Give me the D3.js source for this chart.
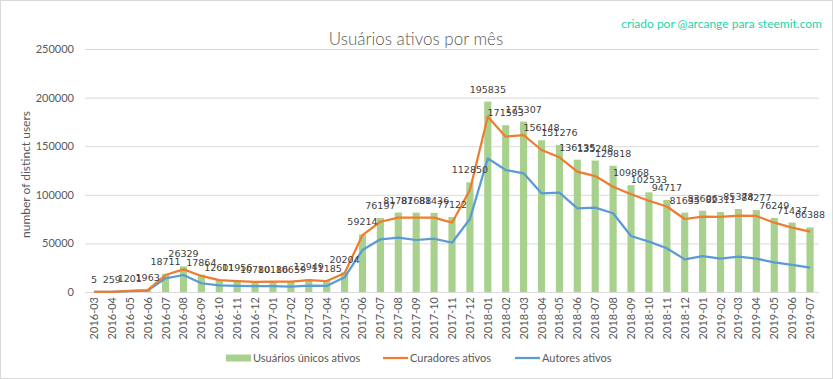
<!DOCTYPE html>
<html>
<head>
<meta charset="utf-8">
<script src="https://cdn.jsdelivr.net/npm/d3@7"></script>
<style>
  html, body { margin: 0; padding: 0; background: #fff; }
  svg { display: block; }
</style>
</head>
<body>
<div id="chart"></div>
<script>
// meses 2016-03 .. 2019-07
const MONTHS = [
  "2016-03","2016-04","2016-05","2016-06","2016-07","2016-08","2016-09","2016-10","2016-11","2016-12",
  "2017-01","2017-02","2017-03","2017-04","2017-05","2017-06","2017-07","2017-08","2017-09","2017-10",
  "2017-11","2017-12","2018-01","2018-02","2018-03","2018-04","2018-05","2018-06","2018-07","2018-08",
  "2018-09","2018-10","2018-11","2018-12","2019-01","2019-02","2019-03","2019-04","2019-05","2019-06","2019-07"
];
// Usuários únicos ativos (barras, com rótulos)
const UNICOS = [
  5, 259, 1201, 1963, 18711, 26329, 17864, 12601, 11956, 10780,
  10186, 10659, 12949, 11185, 20204, 59214, 76197, 81787, 81688, 81436,
  77122, 112850, 195835, 171593, 175307, 156148, 151276, 136135, 135248, 129818,
  109868, 102533, 94717, 81635, 83606, 82311, 85378, 84277, 76249, 71437, 66388
];
// Curadores ativos (linha laranja)
const CURADORES = [
  5, 240, 1150, 1900, 17500, 23300, 16500, 12300, 11300, 10500,
  10700, 10600, 12200, 11300, 19200, 58600, 72300, 76500, 76500, 76500,
  71300, 104900, 180300, 159800, 161500, 146100, 138600, 123800, 119300, 108300,
  100500, 93900, 88000, 75100, 77500, 77200, 78500, 78200, 71300, 66200, 62100
];
// Autores ativos (linha azul)
const AUTORES = [
  5, 200, 900, 1500, 14100, 17500, 9000, 6900, 6300, 6000,
  6000, 5500, 6500, 6200, 15100, 43200, 54200, 55900, 53500, 54800,
  50700, 75100, 137500, 125500, 122100, 101500, 102200, 86100, 86800, 81000,
  57600, 51800, 45000, 33600, 37000, 34300, 36300, 34300, 30500, 27800, 25000
];
const Y_TICKS = [0, 50000, 100000, 150000, 200000, 250000];

const W = 833, H = 379;
const m = { l: 85, r: 14, t: 49, b: 87 };
const FONT = "Lato, 'Open Sans', sans-serif";
const GREEN = "#A9D18E", ORANGE = "#ED7D31", BLUE = "#5B9BD5";

const svg = d3.select("#chart").append("svg").attr("width", W).attr("height", H);
svg.append("rect").attr("x", 0.5).attr("y", 0.5).attr("width", W - 1).attr("height", H - 1)
  .attr("fill", "#fff").attr("stroke", "#d9d9d9");

const x = d3.scaleBand().domain(MONTHS).range([m.l, W - m.r]).padding(0);
const y = d3.scaleLinear().domain([0, 250000]).range([H - m.b, m.t]);
const step = x.step();
const cx = d => x(d) + step / 2;

// grelha
svg.append("g").selectAll("line").data(Y_TICKS).join("line")
  .attr("x1", m.l).attr("x2", W - m.r)
  .attr("y1", d => y(d) + 0.5).attr("y2", d => y(d) + 0.5)
  .attr("stroke", "#d9d9d9").attr("stroke-width", 1);

// eixo y
const ya = svg.append("g").attr("transform", `translate(${m.l - 11},0)`)
  .call(d3.axisLeft(y).tickValues(Y_TICKS).tickSize(0).tickPadding(0).tickFormat(d3.format("d")));
ya.select(".domain").remove();
ya.selectAll("text").attr("fill", "#595959").attr("font-family", FONT).attr("font-size", 11);

svg.append("text").attr("transform", `translate(30,${(m.t + H - m.b) / 2 + 4}) rotate(-90)`)
  .attr("text-anchor", "middle").attr("fill", "#595959").attr("font-family", FONT)
  .attr("font-size", 12).text("number of distinct users");

// eixo x
svg.append("g").selectAll("text").data(MONTHS).join("text")
  .attr("transform", d => `translate(${cx(d) + 4},${H - m.b + 5}) rotate(-90)`)
  .attr("text-anchor", "end").attr("fill", "#595959").attr("font-family", FONT)
  .attr("font-size", 11).text(d => d);

// barras
const bw = step * 0.4;
svg.append("g").selectAll("rect").data(MONTHS).join("rect")
  .attr("x", d => cx(d) - bw / 2).attr("width", bw)
  .attr("y", (d, i) => y(UNICOS[i])).attr("height", (d, i) => y(0) - y(UNICOS[i]))
  .attr("fill", GREEN);

// linhas
const line = d3.line().x((v, i) => cx(MONTHS[i])).y(v => y(v));
svg.append("path").datum(AUTORES).attr("d", line).attr("fill", "none")
  .attr("stroke", BLUE).attr("stroke-width", 2.25).attr("stroke-linejoin", "round");
svg.append("path").datum(CURADORES).attr("d", line).attr("fill", "none")
  .attr("stroke", ORANGE).attr("stroke-width", 2.25).attr("stroke-linejoin", "round");

// rótulos das barras
svg.append("g").selectAll("text").data(MONTHS).join("text")
  .attr("x", d => cx(d)).attr("y", (d, i) => y(UNICOS[i]) - 9)
  .attr("text-anchor", "middle").attr("fill", "#404040")
  .attr("font-family", "'DejaVu Sans', sans-serif").attr("font-size", 9.5)
  .text((d, i) => UNICOS[i]);

// título e assinatura
svg.append("text").attr("x", 416).attr("y", 45).attr("text-anchor", "middle")
  .attr("fill", "#595959").attr("font-family", FONT).attr("font-weight", 300)
  .attr("font-size", 17).text("Usuários ativos por mês");
svg.append("text").attr("x", 822).attr("y", 28).attr("text-anchor", "end")
  .attr("fill", "#1DD3A7").attr("font-family", FONT).attr("font-size", 12)
  .text("criado por @arcange para steemit.com");

// legenda
const LEG = [
  { name: "Usuários únicos ativos", color: GREEN, x: 226, bar: true },
  { name: "Curadores ativos", color: ORANGE, x: 383 },
  { name: "Autores ativos", color: BLUE, x: 515 },
];
const lg = svg.append("g").selectAll("g").data(LEG).join("g")
  .attr("transform", d => `translate(${d.x},358)`);
lg.each(function (d) {
  const s = d3.select(this);
  if (d.bar) s.append("rect").attr("x", 0).attr("y", -3.5).attr("width", 25).attr("height", 7).attr("fill", d.color);
  else s.append("line").attr("x1", 0).attr("x2", 25).attr("stroke", d.color).attr("stroke-width", 2.25);
  s.append("text").attr("x", 27).attr("y", 4).attr("fill", "#595959")
    .attr("font-family", FONT).attr("font-size", 11).text(d.name);
});
</script>
</body>
</html>
